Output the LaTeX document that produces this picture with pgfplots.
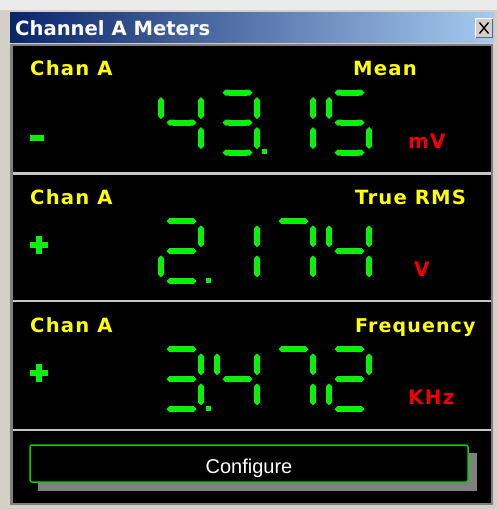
\documentclass[border=0pt]{standalone}
\usepackage{pgfplots}
\pgfplotsset{compat=1.18}
\usepackage{pgfplotstable}
\usetikzlibrary{arrows.meta}
\usepackage{fontspec}
\setmainfont{DejaVu Sans}
\newfontfamily\lcdfont[LetterSpace=6]{DejaVu Sans}
\newfontfamily\btnfont{Liberation Sans}
\definecolor{lcdgreen}{RGB}{10,240,10}
\definecolor{lcdyellow}{RGB}{255,255,0}
\definecolor{lcdred}{RGB}{240,0,0}
\definecolor{winface}{RGB}{212,208,200}
\definecolor{titleL}{RGB}{10,36,106}
\definecolor{titleR}{RGB}{166,202,240}

% seven-segment displays: each row is one lit segment (start x, start y, dx, dy)
% "43.15" mV
\pgfplotstableread{
x y u v
161 97.0 0 22
201 97.0 0 22
166.5 122.7 30 0
201 127.0 0 22
222.5 92.7 30 0
257 97.0 0 22
222.5 122.7 30 0
257 127.0 0 22
222.5 152.7 30 0
313 97.0 0 22
313 127.0 0 22
334.5 92.7 30 0
329 97.0 0 22
334.5 122.7 30 0
369 127.0 0 22
334.5 152.7 30 0
}\meanDigits
% "2.174" V
\pgfplotstableread{
x y u v
166.5 221 30 0
201 225.3 0 22
166.5 251 30 0
161 255.3 0 22
166.5 281 30 0
257 225.3 0 22
257 255.3 0 22
278.5 221 30 0
313 225.3 0 22
313 255.3 0 22
329 225.3 0 22
369 225.3 0 22
334.5 251 30 0
369 255.3 0 22
}\rmsDigits
% "3.472" KHz
\pgfplotstableread{
x y u v
166.5 349 30 0
201 353.3 0 22
166.5 379 30 0
201 383.3 0 22
166.5 409 30 0
217 353.3 0 22
257 353.3 0 22
222.5 379 30 0
257 383.3 0 22
278.5 349 30 0
313 353.3 0 22
313 383.3 0 22
334.5 349 30 0
369 353.3 0 22
334.5 379 30 0
329 383.3 0 22
334.5 409 30 0
}\freqDigits

\begin{document}
\begin{tikzpicture}
\begin{axis}[
  width=497pt, height=509pt, scale only axis,
  xmin=0, xmax=497, ymin=0, ymax=509,
  y dir=reverse, hide axis,
]
% window frame
\fill[winface] (axis cs:0,0) rectangle (axis cs:497,509);
\fill[white!92!black] (axis cs:0,0) rectangle (axis cs:497,10);
\shade[left color=titleL, right color=titleR] (axis cs:10,12) rectangle (axis cs:494,42);
\node[anchor=base west, text=white, font=\bfseries\fontsize{19.6}{20}\selectfont, inner sep=0pt] at (axis cs:15,35) {Channel A Meters};
% close button
\fill[winface] (axis cs:475,18) rectangle (axis cs:493,38);
\draw[white, line width=1pt] (axis cs:475.5,37.5) -- (axis cs:475.5,18.5) -- (axis cs:492.5,18.5);
\draw[black!60, line width=1pt] (axis cs:475.5,37.5) -- (axis cs:492.5,37.5) -- (axis cs:492.5,18.5);
\draw[black, line width=1.4pt] (axis cs:479.5,22.5) -- (axis cs:488.5,33.5) (axis cs:488.5,22.5) -- (axis cs:479.5,33.5);
% black display area
\fill[black!50] (axis cs:10,44) rectangle (axis cs:493,505);
\fill[black] (axis cs:13,46) rectangle (axis cs:491,503);
\draw[black!22, line width=2.5pt] (axis cs:13,173.5) -- (axis cs:491,173.5);
\draw[black!22, line width=2.5pt] (axis cs:13,301) -- (axis cs:491,301);
\draw[black!22, line width=2.5pt] (axis cs:13,430) -- (axis cs:491,430);

% labels
\tikzset{ylab/.style={anchor=base west, inner sep=0pt, text=lcdyellow, font=\lcdfont\bfseries\fontsize{19.6}{20}\selectfont},
         rlab/.style={anchor=base west, inner sep=0pt, text=lcdred, font=\lcdfont\bfseries\fontsize{20}{20}\selectfont}}
\node[ylab] at (axis cs:30,75.3) {Chan A};
\node[ylab] at (axis cs:353,75.3) {Mean};
\node[ylab] at (axis cs:30,204) {Chan A};
\node[ylab] at (axis cs:355,204) {True RMS};
\node[ylab, font=\lcdfont\bfseries\fontsize{19}{20}\selectfont] at (axis cs:355,332) {Frequency};
\node[ylab] at (axis cs:30,332) {Chan A};
\node[rlab] at (axis cs:408,148.3) {mV};
\node[rlab] at (axis cs:414,276) {V};
\node[rlab] at (axis cs:408,404) {KHz};

% signs
\addplot[lcdgreen, line width=6pt] coordinates {(30,138) (44,138)};
\addplot[lcdgreen, line width=6pt] coordinates {(30,245) (48,245)};
\addplot[lcdgreen, line width=6pt] coordinates {(39,236) (39,254)};
\addplot[lcdgreen, line width=6pt] coordinates {(30,373) (48,373)};
\addplot[lcdgreen, line width=6pt] coordinates {(39,364) (39,382)};

% digits
\addplot[lcdgreen, line width=6pt, {Triangle Cap}-{Triangle Cap}, quiver={u=\thisrow{u}, v=\thisrow{v}}] table {\meanDigits};
\addplot[lcdgreen, line width=6pt, {Triangle Cap}-{Triangle Cap}, quiver={u=\thisrow{u}, v=\thisrow{v}}] table {\rmsDigits};
\addplot[lcdgreen, line width=6pt, {Triangle Cap}-{Triangle Cap}, quiver={u=\thisrow{u}, v=\thisrow{v}}] table {\freqDigits};
% decimal points
\addplot[only marks, mark=square*, mark size=2.1pt, lcdgreen] coordinates {(264.5,151.5) (208.5,280) (208.5,408.5)};

% configure button
\fill[black!50] (axis cs:38,453) rectangle (axis cs:477,491);
\filldraw[fill=black, draw=lcdgreen!85!black, line width=1.5pt, rounded corners=2pt] (axis cs:30,445) rectangle (axis cs:468,482);
\node[anchor=base, inner sep=0pt, text=white, font=\btnfont\fontsize{20}{20}\selectfont] at (axis cs:249,473) {Configure};
\end{axis}
\end{tikzpicture}
\end{document}
